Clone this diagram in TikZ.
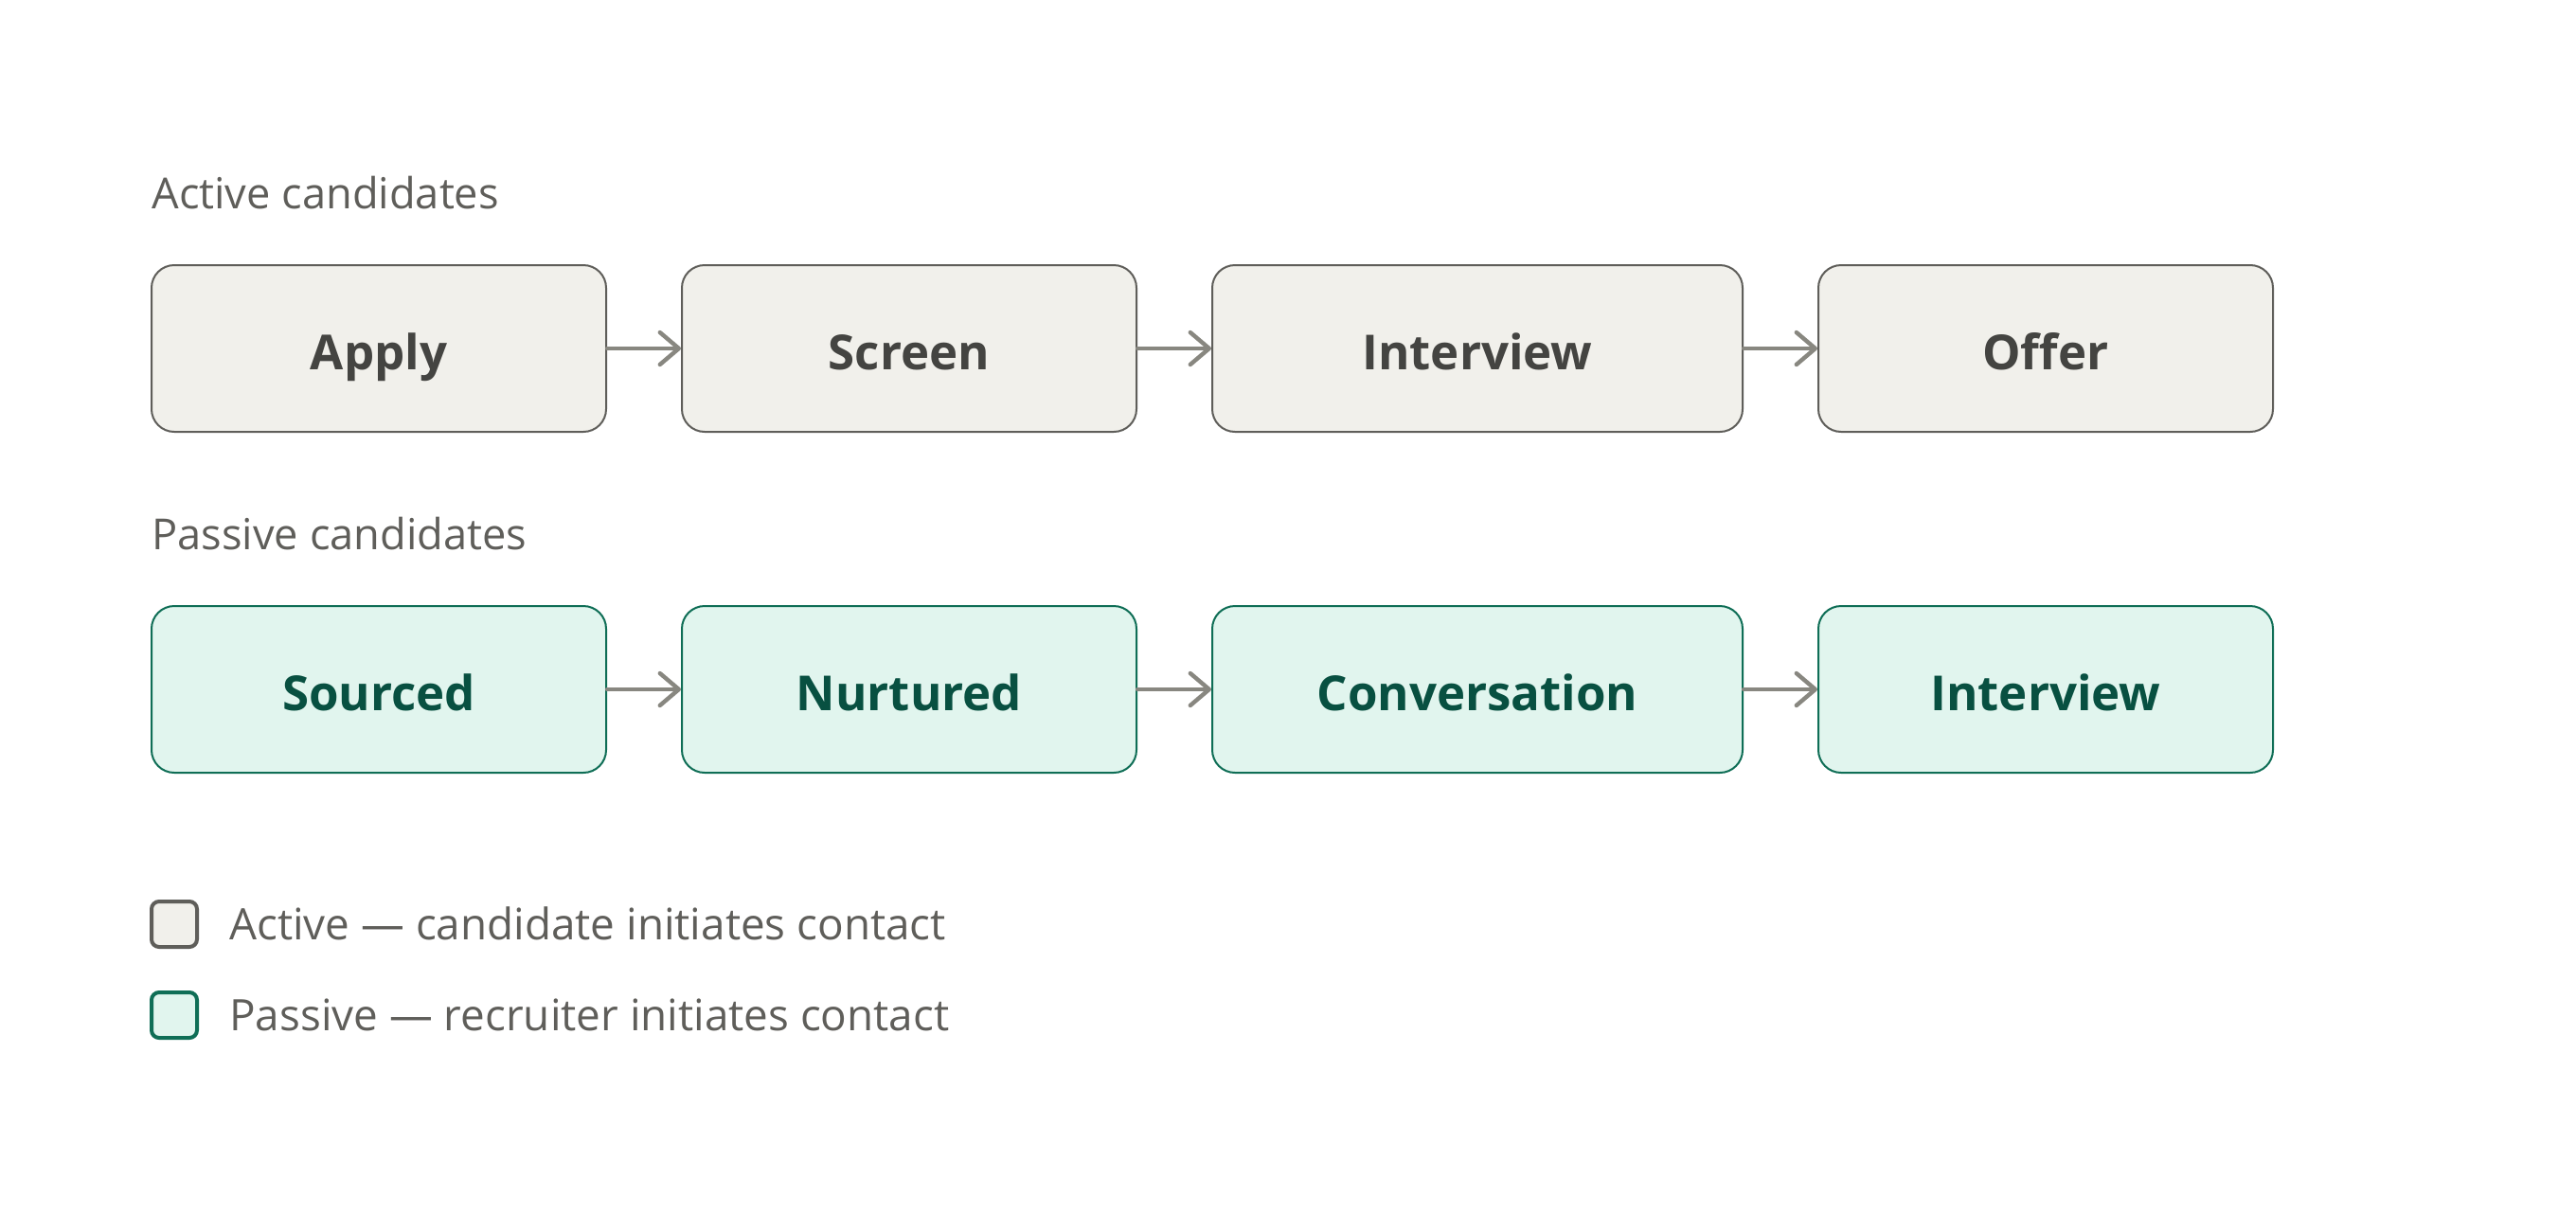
\documentclass[tikz,border=0pt]{standalone}
\usepackage{fontspec}
\setmainfont{Open Sans}
\usetikzlibrary{arrows.meta}
\definecolor{actfill}{HTML}{F1F0EB}
\definecolor{actdraw}{HTML}{5F5E5A}
\definecolor{acttext}{HTML}{444441}
\definecolor{pasfill}{HTML}{E1F5EE}
\definecolor{pasdraw}{HTML}{0F6E56}
\definecolor{pastext}{HTML}{085041}
\definecolor{arrowgray}{HTML}{888780}
\definecolor{labelgray}{HTML}{5F5E5A}
\tikzset{
  stagebox/.style={rounded corners=12pt, minimum height=88pt, line width=1pt,
    inner sep=0pt, text height=25pt, text depth=3pt,
    font=\fontsize{25.5}{30}\selectfont\bfseries},
  actbox/.style={stagebox, draw=actdraw, fill=actfill, text=acttext},
  pasbox/.style={stagebox, draw=pasdraw, fill=pasfill, text=pastext},
  flow/.style={draw=arrowgray, line width=2.2pt, line cap=round,
    -{Straight Barb[length=10pt,width=17pt,line width=2.2pt,line cap=round,line join=round]}},
  sectlabel/.style={anchor=base west, inner sep=0pt, text=labelgray, font=\fontsize{22.6}{26}\selectfont},
  legtext/.style={anchor=base west, inner sep=0pt, text=labelgray, font=\fontsize{22.9}{26}\selectfont},
}
\begin{document}
\begin{tikzpicture}[x=1pt,y=-1pt]
\useasboundingbox[fill=white] (0,0) rectangle (1360,640);
\node[sectlabel] (lab1) at (80,110) {Active candidates};
\node[actbox, minimum width=240pt] (a1) at (200,184) {Apply};
\node[actbox, minimum width=240pt] (a2) at (480,184) {Screen};
\node[actbox, minimum width=280pt] (a3) at (780,184) {Interview};
\node[actbox, minimum width=240pt] (a4) at (1080,184) {Offer};
\draw[flow] (a1.east) -- (a2.west);
\draw[flow] (a2.east) -- (a3.west);
\draw[flow] (a3.east) -- (a4.west);
\node[sectlabel] (lab2) at (80,290) {Passive candidates};
\node[pasbox, minimum width=240pt] (p1) at (200,364) {Sourced};
\node[pasbox, minimum width=240pt] (p2) at (480,364) {Nurtured};
\node[pasbox, minimum width=280pt] (p3) at (780,364) {Conversation};
\node[pasbox, minimum width=240pt] (p4) at (1080,364) {Interview};
\draw[flow] (p1.east) -- (p2.west);
\draw[flow] (p2.east) -- (p3.west);
\draw[flow] (p3.east) -- (p4.west);
\draw[draw=actdraw, fill=actfill, line width=2pt, rounded corners=4pt] (80,476) rectangle (104,500);
\node[legtext] (leg1) at (121,496) {Active — candidate initiates contact};
\draw[draw=pasdraw, fill=pasfill, line width=2pt, rounded corners=4pt] (80,524) rectangle (104,548);
\node[legtext] (leg2) at (121,544) {Passive — recruiter initiates contact};
\end{tikzpicture}
\end{document}
